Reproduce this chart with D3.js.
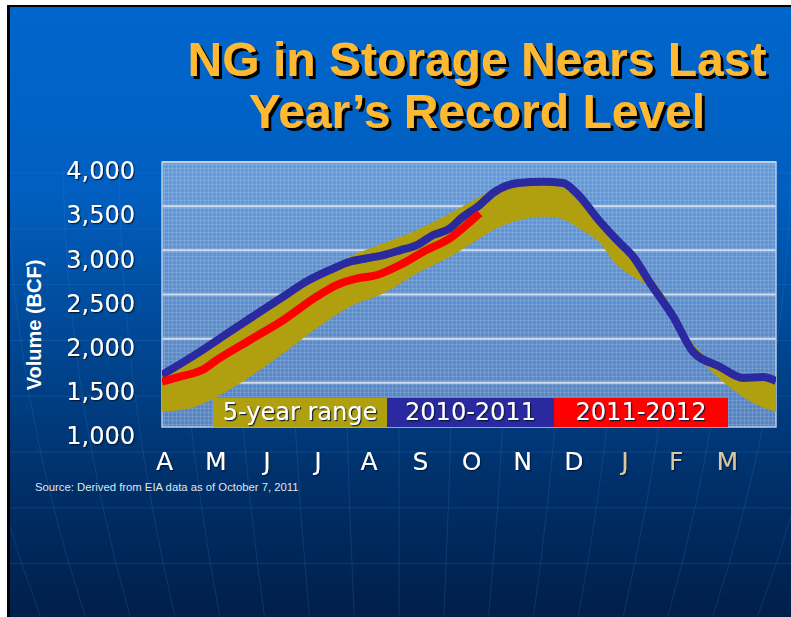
<!DOCTYPE html>
<html><head><meta charset="utf-8">
<script src="https://cdn.jsdelivr.net/npm/d3@7"></script>
<style>html,body{margin:0;padding:0;background:#fff;overflow:hidden} svg{display:block}</style>
</head><body><svg id="c" width="791" height="617"></svg>
<script>
// ---- data ----
const titleLines = ["NG in Storage Nears Last", "Year\u2019s Record Level"];
const monthLabels = ["A","M","J","J","A","S","O","N","D","J","F","M"];
const yTicks = [1000,1500,2000,2500,3000,3500,4000];
const yTitle = "Volume (BCF)";
const sourceNote = "Source:  Derived from EIA data as of October 7, 2011";
const legendLabels = ["5-year range","2010-2011","2011-2012"];

// time in months since April 1
const bandT    = [0,0.55,1.07,1.72,2.37,3.02,3.67,4.33,4.98,5.63,6.21,6.47,7.0,7.45,7.78,8.10,8.56,8.89,9.21,9.47,9.86,10.25,10.71,11.17,11.56,12];
const bandLow  = [1174,1212,1343,1570,1834,2117,2362,2513,2740,2928,3136,3230,3343,3381,3362,3267,3079,2834,2701,2607,2324,1947,1645,1419,1268,1174];
const bandHigh = [1620,1800,1960,2210,2450,2680,2928,3079,3230,3419,3607,3680,3790,3800,3790,3680,3360,3130,2960,2760,2450,2040,1760,1610,1570,1530];

const t2010 = [0,0.74,1.2,1.72,2.37,2.8,3.28,3.67,4.0,4.33,4.65,4.98,5.30,5.63,5.82,6.21,6.47,6.96,7.45,7.84,8.10,8.56,8.9,9.21,9.54,9.99,10.38,10.9,11.36,11.75,12];
const v2010 = [1590,1852,2030,2230,2475,2640,2777,2871,2910,2947,3000,3060,3173,3249,3350,3513,3649,3762,3777,3762,3649,3325,3110,2927,2630,2249,1852,1682,1555,1566,1520];

const t2011 = [0,0.35,0.61,0.8,1.07,1.72,2.37,3.02,3.41,3.8,4.20,4.65,5.17,5.63,5.95,6.21];
const v2011 = [1513,1570,1608,1650,1758,1985,2211,2475,2607,2680,2721,2834,3004,3136,3287,3419];

// ---- styles ----
const C = {olive:"#b0a00f", blue:"#2a29a0", red:"#ff0000", title:"#ffb833"};

const svg = d3.select("#c");
const defs = svg.append("defs");

const bg = defs.append("linearGradient").attr("id","bg").attr("x1",0).attr("y1",0).attr("x2",0).attr("y2",1);
[[0,"#0066cc"],[0.3,"#005fc0"],[0.6,"#00428a"],[0.8,"#002e66"],[1,"#001f4a"]].forEach(s=>bg.append("stop").attr("offset",s[0]).attr("stop-color",s[1]));

const pg = defs.append("linearGradient").attr("id","pg").attr("x1",0).attr("y1",0).attr("x2",0).attr("y2",1);
[[0,"#659cdc"],[1,"#5685c4"]].forEach(s=>pg.append("stop").attr("offset",s[0]).attr("stop-color",s[1]));

const pat = defs.append("pattern").attr("id","tex").attr("width",8).attr("height",8).attr("patternUnits","userSpaceOnUse");
pat.append("path").attr("d","M0,0.5H8M0,4.5H8M0.5,0V8M4.5,0V8").attr("stroke","rgba(255,255,255,0.12)").attr("stroke-width",1);
pat.append("path").attr("d","M2,2h1v1h-1zM6,6h1v1h-1z").attr("fill","rgba(0,0,60,0.08)");

const f1 = defs.append("filter").attr("id","sh").attr("x","-10%").attr("y","-20%").attr("width","130%").attr("height","150%");
f1.append("feDropShadow").attr("dx",1.2).attr("dy",1.2).attr("stdDeviation",0.4).attr("flood-color","#061836").attr("flood-opacity",0.9);
const f2 = defs.append("filter").attr("id","tsh").attr("x","-5%").attr("y","-10%").attr("width","110%").attr("height","130%");
f2.append("feDropShadow").attr("dx",3).attr("dy",3).attr("stdDeviation",0).attr("flood-color","#000").attr("flood-opacity",1);

const W = 791, H = 617;
const P = {l:162, r:776, t:162, b:427};
defs.append("clipPath").attr("id","clip").append("rect").attr("x",P.l).attr("y",P.t).attr("width",P.r-P.l).attr("height",P.b-P.t);
defs.append("clipPath").attr("id","fclip").append("rect").attr("x",10).attr("y",7).attr("width",W-10).attr("height",H-7);

// frame
svg.append("rect").attr("x",7).attr("y",5).attr("width",W-7).attr("height",H-5).attr("fill","#000");
svg.append("rect").attr("x",10).attr("y",7).attr("width",W-10).attr("height",H-7).attr("fill","url(#bg)");

// decorative globe lines
const deco = svg.append("g").attr("clip-path","url(#fclip)").attr("stroke","#3f86d8").attr("fill","none").attr("stroke-width",1);
d3.range(173,617,55.8).forEach(yy=>deco.append("line").attr("x1",10).attr("x2",W).attr("y1",yy).attr("y2",yy).attr("stroke-opacity",0.22));
d3.range(-8,9).forEach(k=>{
  const xt = 399 + k*56, xb = 399 + k*56*0.8;
  const xm = (xt+xb)/2 + k*5;
  deco.append("path").attr("d",`M${xt},170 Q${xm},390 ${xb},617`).attr("stroke-opacity",0.2);
});

// scales
const x = d3.scaleLinear().domain([0,12]).range([P.l,P.r]);
const y = d3.scaleLinear().domain([1000,4000]).range([P.b,P.t]);

// plot background
svg.append("rect").attr("x",P.l).attr("y",P.t).attr("width",P.r-P.l).attr("height",P.b-P.t).attr("fill","url(#pg)");
svg.append("rect").attr("x",P.l).attr("y",P.t).attr("width",P.r-P.l).attr("height",P.b-P.t).attr("fill","url(#tex)");

// gridlines
svg.append("g").selectAll("line").data(yTicks.filter(d=>d>1000)).join("line")
  .attr("x1",P.l).attr("x2",P.r).attr("y1",d=>y(d)).attr("y2",d=>y(d))
  .attr("stroke","#d2deee").attr("stroke-width",2);
svg.append("rect").attr("x",P.l).attr("y",P.t).attr("width",P.r-P.l).attr("height",P.b-P.t)
  .attr("fill","none").attr("stroke","#b9cce6").attr("stroke-width",1.5);

const plot = svg.append("g").attr("clip-path","url(#clip)");
const band = bandT.map((t,i)=>({t, lo:bandLow[i], hi:bandHigh[i]}));
plot.append("path").datum(band).attr("fill",C.olive)
  .attr("d", d3.area().x(d=>x(d.t)).y0(d=>y(d.lo)).y1(d=>y(d.hi)).curve(d3.curveMonotoneX));
const line = d3.line().x(d=>x(d[0])).y(d=>y(d[1])).curve(d3.curveMonotoneX);
plot.append("path").datum(t2010.map((t,i)=>[t,v2010[i]])).attr("fill","none").attr("stroke",C.blue).attr("stroke-width",8).attr("stroke-linejoin","round").attr("d",line);
plot.append("path").datum(t2011.map((t,i)=>[t,v2011[i]])).attr("fill","none").attr("stroke",C.red).attr("stroke-width",8).attr("stroke-linejoin","round").attr("d",line);

// legend
const legX = [213,387,554,728], legColors=[C.olive,C.blue,C.red];
const lg = svg.append("g");
legendLabels.forEach((lab,i)=>{
  lg.append("rect").attr("x",legX[i]).attr("y",398).attr("width",legX[i+1]-legX[i]).attr("height",29).attr("fill",legColors[i]);
  lg.append("text").attr("x",(legX[i]+legX[i+1])/2).attr("y",420).attr("text-anchor","middle")
    .attr("font-family","DejaVu Sans").attr("font-size",24).attr("fill","#fff").attr("filter","url(#sh)").text(lab);
});

// y axis
const ya = svg.append("g").attr("transform",`translate(${P.l},0)`)
  .call(d3.axisLeft(y).tickValues(yTicks).tickFormat(d3.format(",")).tickSize(0).tickPadding(27));
ya.select(".domain").remove();
ya.selectAll("text").attr("font-family","DejaVu Sans").attr("font-size",24).attr("fill","#fff")
  .attr("dy","0.70em").attr("filter","url(#sh)");

// x axis
const xa = svg.append("g").attr("transform",`translate(2,${P.b})`)
  .call(d3.axisBottom(x).tickValues(d3.range(12)).tickFormat(i=>monthLabels[i]).tickSize(0).tickPadding(25));
xa.select(".domain").remove();
xa.selectAll("text").attr("font-family","DejaVu Sans").attr("font-size",25).attr("fill",(d)=>d>=9?"#d8c9a2":"#fff")
  .attr("filter","url(#sh)");

// y title
svg.append("text").attr("transform","translate(41,325) rotate(-90)").attr("text-anchor","middle")
  .attr("font-family","Liberation Sans").attr("font-weight","bold").attr("font-size",20).attr("fill","#fff").text(yTitle);

// title
svg.append("g").attr("filter","url(#tsh)").selectAll("text").data(titleLines).join("text")
  .attr("x",477).attr("y",(d,i)=>76+i*52).attr("text-anchor","middle")
  .attr("font-family","Liberation Sans").attr("font-weight","bold").attr("font-size",48).attr("fill",C.title).text(d=>d);

// source
svg.append("text").attr("x",35).attr("y",491).attr("font-family","Liberation Sans").attr("font-size",11.3)
  .attr("fill","#dfe6f0").text(sourceNote);
</script></body></html>
